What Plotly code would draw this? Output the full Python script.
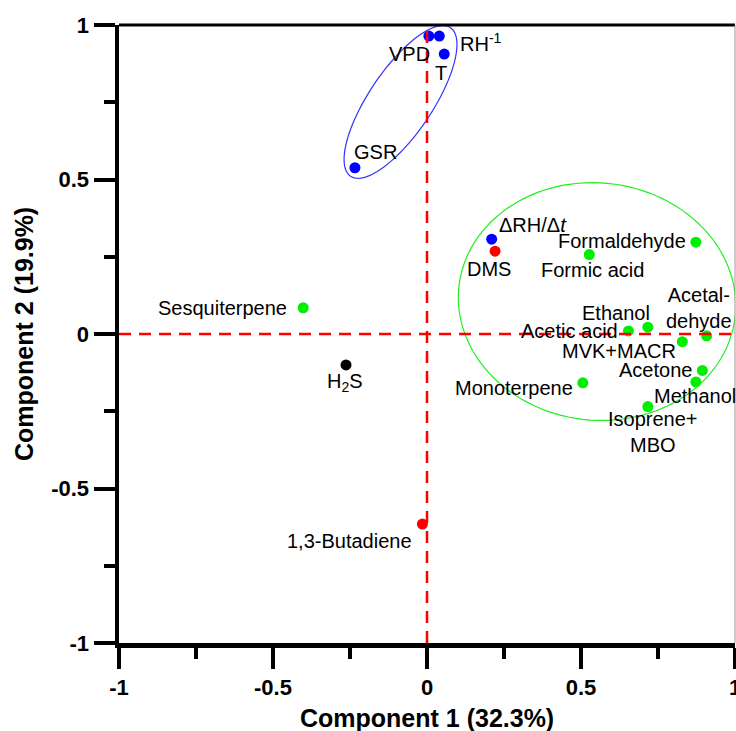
import numpy as np
import plotly.graph_objects as go

# ---------------- data ----------------
names = ["VPD", "RH<sup>-1</sup>", "T", "GSR", "ΔRH/Δ<i>t</i>",
         "DMS", "1,3-Butadiene", "H<sub>2</sub>S",
         "Formaldehyde", "Formic acid", "Ethanol", "Acetic acid",
         "Acetal-<br>dehyde", "MVK+MACR", "Acetone", "Methanol",
         "Isoprene+<br>MBO", "Monoterpene", "Sesquiterpene"]
comp1 = [0.006, 0.040, 0.056, -0.234, 0.210,
         0.221, -0.015, -0.263,
         0.873, 0.527, 0.717, 0.654,
         0.908, 0.829, 0.894, 0.873,
         0.717, 0.506, -0.402]
comp2 = [0.964, 0.964, 0.906, 0.538, 0.307,
         0.268, -0.615, -0.100,
         0.297, 0.257, 0.022, 0.010,
         -0.006, -0.025, -0.118, -0.155,
         -0.235, -0.158, 0.085]
groups = ["met", "met", "met", "met", "met",
          "red", "red", "black",
          "green", "green", "green", "green",
          "green", "green", "green", "green",
          "green", "green", "green"]
tick_vals = [-1, -0.5, 0, 0.5, 1]
tick_text = ["-1", "-0.5", "0", "0.5", "1"]
minor_vals = [-0.75, -0.25, 0.25, 0.75]
x_title = "Component 1 (32.3%)"
y_title = "Component 2 (19.9%)"

# ---------------- styles ----------------
colors = {"met": "#0000FF", "red": "#FF0000", "black": "#000000", "green": "#00EE00"}
# label placement: (xanchor, xshift px, yshift px)
label_pos = {
    "VPD": ("right", 3, -18),
    "RH<sup>-1</sup>": ("left", 19, -6),
    "T": ("center", -3, -19),
    "GSR": ("left", -3, 16),
    "ΔRH/Δ<i>t</i>": ("left", 5, 14),
    "DMS": ("center", -6, -18),
    "1,3-Butadiene": ("right", -8, -17),
    "H<sub>2</sub>S": ("center", -1, -18),
    "Formaldehyde": ("right", -8, 1),
    "Formic acid": ("center", 3, -15),
    "Ethanol": ("right", 4, 14),
    "Acetic acid": ("right", -8, 0),
    "Acetal-<br>dehyde": ("center", -8, 28),
    "MVK+MACR": ("right", -4, -9),
    "Acetone": ("right", -8, 0),
    "Methanol": ("left", -44, -14),
    "Isoprene+<br>MBO": ("center", 5, -25),
    "Monoterpene": ("right", -8, -5),
    "Sesquiterpene": ("right", -14, 0),
}
FONT = "Liberation Sans, Arial, sans-serif"
label_size = 20

fig = go.Figure()


def ellipse_path(cx, cy, rx, ry, ang_deg, n=120):
    t = np.linspace(0, 2 * np.pi, n)
    a = np.radians(ang_deg)
    xs = cx + rx * np.cos(t) * np.cos(a) - ry * np.sin(t) * np.sin(a)
    ys = cy + rx * np.cos(t) * np.sin(a) + ry * np.sin(t) * np.cos(a)
    return "M " + " L ".join(f"{x:.4f},{y:.4f}" for x, y in zip(xs, ys)) + " Z"


# group ellipses
fig.add_shape(type="path", path=ellipse_path(-0.086, 0.751, 0.290, 0.103, 56),
              xref="x", yref="y", line=dict(color="#3333FF", width=1.2))
fig.add_shape(type="path", path=ellipse_path(0.552, 0.105, 0.451, 0.384, -6),
              xref="x", yref="y", line=dict(color="#22EE22", width=1.2))

# zero reference lines
fig.add_shape(type="line", x0=0, x1=0, y0=-1, y1=1, xref="x", yref="y",
              line=dict(color="#FF0000", width=2.5, dash="12px,8px"))
fig.add_shape(type="line", x0=-1, x1=1, y0=0, y1=0, xref="x", yref="y",
              line=dict(color="#FF0000", width=2.5, dash="12px,8px"))

# points
for g in ["met", "red", "black", "green"]:
    idx = [i for i, gg in enumerate(groups) if gg == g]
    fig.add_trace(go.Scatter(
        x=[comp1[i] for i in idx], y=[comp2[i] for i in idx],
        mode="markers", marker=dict(color=colors[g], size=11),
        showlegend=False, hoverinfo="skip", cliponaxis=False))

for n, xv, yv in zip(names, comp1, comp2):
    xa, dx, dy = label_pos[n]
    fig.add_annotation(x=xv, y=yv, text=n, showarrow=False, xanchor=xa,
                       yanchor="middle", xshift=dx, yshift=dy,
                       font=dict(family=FONT, size=label_size, color="black"))

# frame top and right
fig.add_shape(type="line", xref="paper", yref="paper", x0=0, x1=1, y0=1, y1=1,
              line=dict(color="black", width=3))
fig.add_shape(type="line", xref="paper", yref="paper", x0=1, x1=1, y0=0, y1=1,
              line=dict(color="#999999", width=1))

axis_common = dict(
    range=[-1, 1], showgrid=False, zeroline=False, automargin=False,
    showline=True, linewidth=4.5, linecolor="black",
    ticks="outside", ticklen=21, tickwidth=4, tickcolor="black",
    tickmode="array", tickvals=tick_vals, ticktext=tick_text,
    tickfont=dict(family=FONT, size=22, color="black", weight="bold"),
    ticklabeloverflow="allow",
    minor=dict(ticks="outside", ticklen=11, tickwidth=4, tickcolor="black",
               tickvals=minor_vals, showgrid=False),
    fixedrange=True,
)
fig.update_xaxes(**axis_common)
fig.update_yaxes(**axis_common)

fig.add_annotation(text=x_title, xref="paper", yref="paper", x=0.5, y=0,
                   xanchor="center", yanchor="middle", yshift=-75, showarrow=False,
                   font=dict(family=FONT, size=25, color="black", weight="bold"))
fig.add_annotation(text=y_title, xref="paper", yref="paper", x=0, y=0.5,
                   xanchor="center", yanchor="middle", xshift=-95, textangle=-90,
                   showarrow=False,
                   font=dict(family=FONT, size=25, color="black", weight="bold"))

fig.update_layout(
    width=736, height=731,
    margin=dict(l=119, r=1, t=25, b=88, pad=0, autoexpand=False),
    plot_bgcolor="white", paper_bgcolor="white",
    showlegend=False,
)

# remove the default page margin so the figure fills the window exactly
fig.write_html("out.html",
               config={"displayModeBar": False, "staticPlot": True},
               post_script="document.body.style.margin='0';"
                           "document.body.style.overflow='hidden';")
